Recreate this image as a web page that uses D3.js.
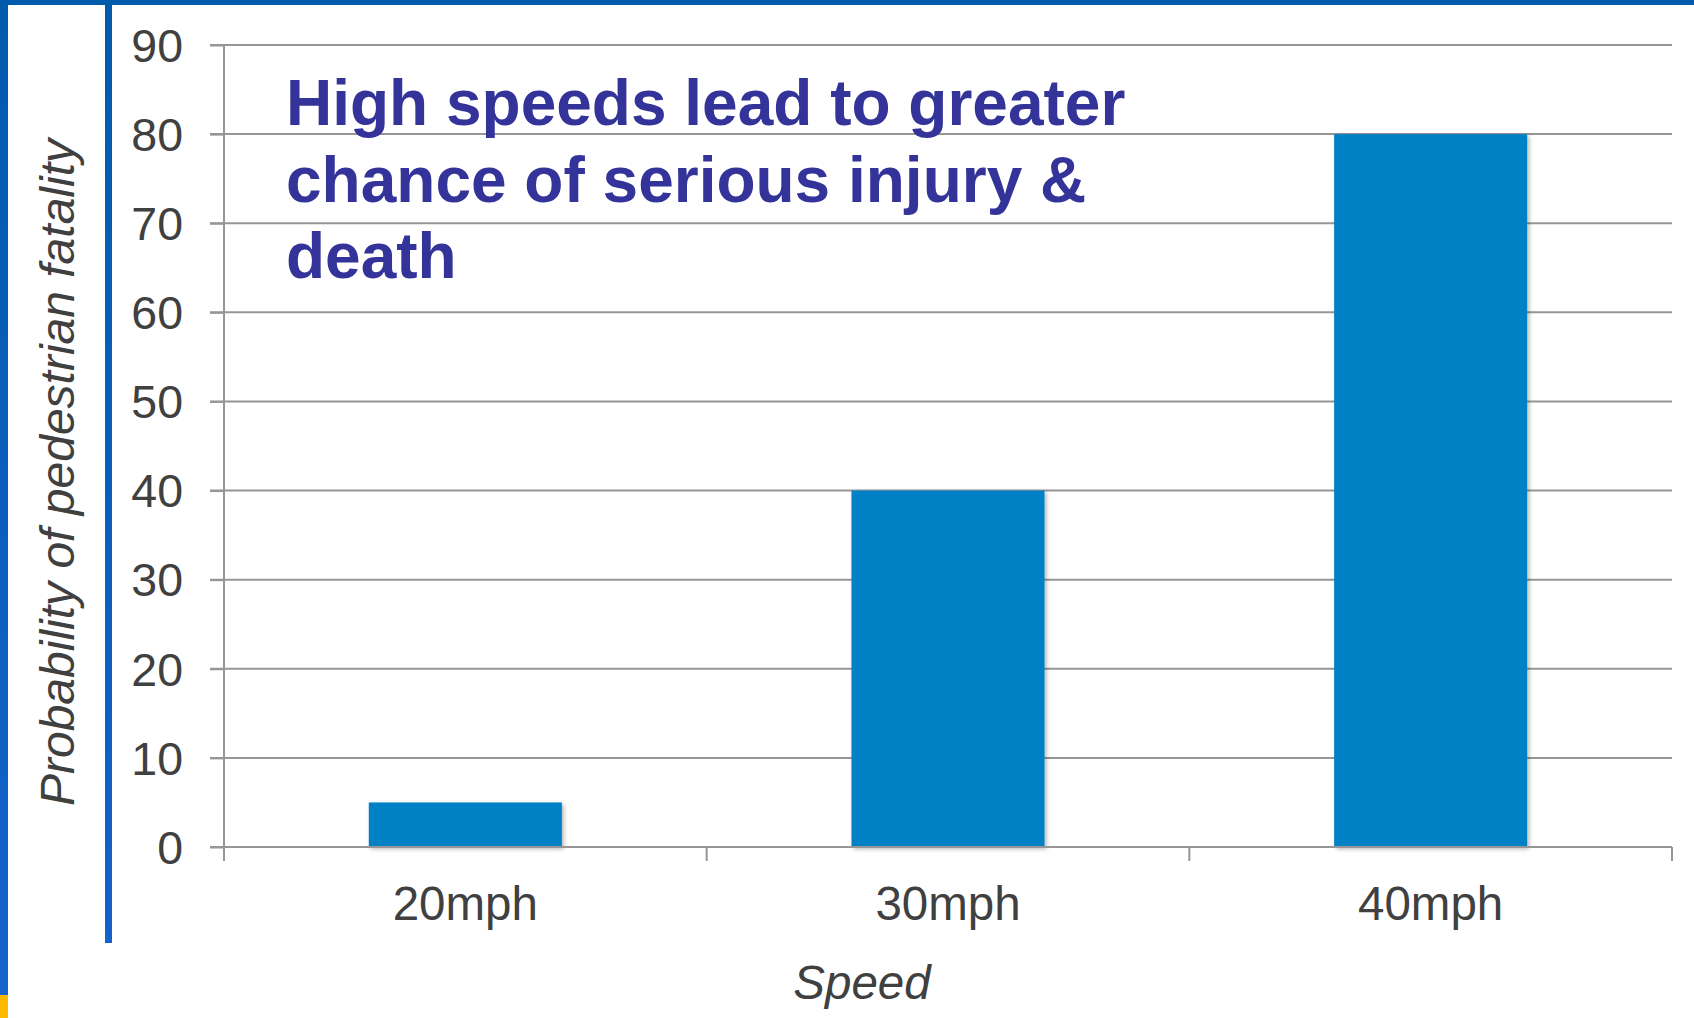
<!DOCTYPE html>
<html>
<head>
<meta charset="utf-8">
<script src="https://cdn.jsdelivr.net/npm/d3@7/dist/d3.min.js"></script>
<style>
  html, body { margin: 0; padding: 0; background: #ffffff; }
  svg { display: block; }
  text { font-family: "Liberation Sans", Arial, Helvetica, sans-serif; }
</style>
</head>
<body>
<svg id="chart" width="1694" height="1018"></svg>
<script>
// ---- data ----
const categories = ["20mph", "30mph", "40mph"];
const fatality = [5, 40, 80];
const yTicks = [0, 10, 20, 30, 40, 50, 60, 70, 80, 90];
const titleLines = ["High speeds lead to greater", "chance of serious injury &", "death"];
const yTitle = "Probability of pedestrian fatality";
const xTitle = "Speed";

const W = 1694, H = 1018;
const svg = d3.select("#chart");

// ---- decorative frame ----
const defs = svg.append("defs");
const grad = defs.append("linearGradient").attr("id", "frameGrad")
  .attr("gradientUnits", "userSpaceOnUse")
  .attr("x1", 0).attr("y1", 0).attr("x2", 0).attr("y2", 1000);
grad.append("stop").attr("offset", "0%").attr("stop-color", "#005BAC");
grad.append("stop").attr("offset", "100%").attr("stop-color", "#1562CC");

const shadow = defs.append("filter").attr("id", "barShadow")
  .attr("x", "-10%").attr("y", "-10%").attr("width", "130%").attr("height", "130%");
shadow.append("feDropShadow").attr("dx", 2).attr("dy", 2).attr("stdDeviation", 2)
  .attr("flood-color", "#000").attr("flood-opacity", 0.28);

svg.append("rect").attr("x", 0).attr("y", 0).attr("width", W).attr("height", 5).attr("fill", "#005BAC");
svg.append("rect").attr("x", 0).attr("y", 0).attr("width", 8).attr("height", 995).attr("fill", "url(#frameGrad)");
svg.append("rect").attr("x", 0).attr("y", 995).attr("width", 8).attr("height", H - 995).attr("fill", "#FFB900");
svg.append("rect").attr("x", 105).attr("y", 0).attr("width", 7).attr("height", 943).attr("fill", "url(#frameGrad)");

// ---- scales ----
const plotLeft = 224, plotRight = 1672, plotTop = 45, plotBottom = 847;
const x = d3.scaleBand().domain(categories).range([plotLeft, plotRight])
  .paddingInner(0.6).paddingOuter(0.3);
const y = d3.scaleLinear().domain([0, 90]).range([plotBottom, plotTop]);

const textColor = "#404040";
const gridColor = "#969696";

// ---- gridlines ----
svg.append("g").selectAll("line").data(yTicks).join("line")
  .attr("x1", plotLeft - 14).attr("x2", plotRight)
  .attr("y1", d => y(d)).attr("y2", d => y(d))
  .attr("stroke", gridColor).attr("stroke-width", 2);

// ---- y axis ----
const yAxis = svg.append("g").attr("transform", `translate(${plotLeft},0)`)
  .call(d3.axisLeft(y).tickValues(yTicks).tickSize(14).tickPadding(27).tickFormat(d3.format("d")));
yAxis.select(".domain").remove();
yAxis.selectAll(".tick line").attr("stroke", gridColor).attr("stroke-width", 2);
yAxis.selectAll(".tick text").attr("fill", textColor).attr("font-size", 46.5)
  .attr("dy", "0.35em").style("font-family", '"Liberation Sans", Arial, sans-serif');
svg.append("line").attr("x1", plotLeft).attr("x2", plotLeft)
  .attr("y1", plotTop).attr("y2", plotBottom + 14)
  .attr("stroke", gridColor).attr("stroke-width", 2);

// ---- bars ----
svg.append("g").selectAll("rect").data(categories).join("rect")
  .attr("x", d => x(d)).attr("width", x.bandwidth())
  .attr("y", (d, i) => y(fatality[i]))
  .attr("height", (d, i) => y(0) - y(fatality[i]))
  .attr("fill", "#0081C6")
  .attr("filter", "url(#barShadow)");

// ---- x axis ----
svg.append("line").attr("x1", plotLeft - 14).attr("x2", plotRight)
  .attr("y1", y(0)).attr("y2", y(0)).attr("stroke", gridColor).attr("stroke-width", 2);
const step = x.step();
const bounds = categories.map(c => x(c) - step * x.paddingOuter())
  .concat([x(categories[categories.length - 1]) + x.bandwidth() + step * x.paddingOuter()]);
svg.append("g").selectAll("line").data(bounds).join("line")
  .attr("x1", d => d).attr("x2", d => d)
  .attr("y1", y(0)).attr("y2", y(0) + 14)
  .attr("stroke", gridColor).attr("stroke-width", 2);
svg.append("g").selectAll("text").data(categories).join("text")
  .attr("x", d => x(d) + x.bandwidth() / 2).attr("y", 920)
  .attr("text-anchor", "middle").attr("font-size", 47.5).attr("fill", textColor)
  .text(d => d);

// ---- axis titles ----
svg.append("text").attr("x", 862).attr("y", 999)
  .attr("text-anchor", "middle").attr("font-size", 47.5).attr("font-style", "italic")
  .attr("fill", textColor).text(xTitle);
svg.append("text").attr("transform", "translate(74,472.5) rotate(-90)")
  .attr("text-anchor", "middle").attr("font-size", 48).attr("font-style", "italic")
  .attr("fill", textColor).text(yTitle);

// ---- title ----
svg.append("g").selectAll("text").data(titleLines).join("text")
  .attr("x", 286).attr("y", (d, i) => 125 + i * 76.5)
  .attr("font-size", 64).attr("font-weight", "bold").attr("fill", "#333399")
  .text(d => d);
</script>
</body>
</html>
